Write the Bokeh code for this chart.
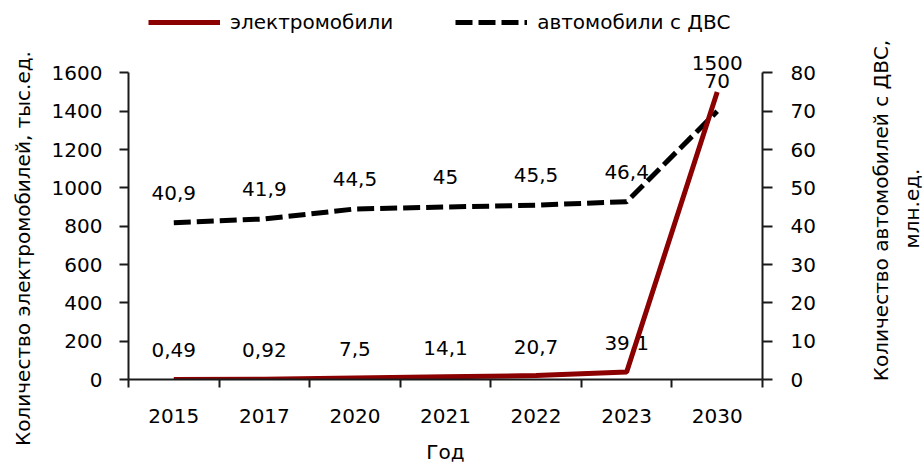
import math
from bokeh.plotting import figure
from bokeh.layouts import row
from bokeh.models import (Range1d, LinearAxis, FixedTicker, SingleIntervalTicker,
                          ColumnDataSource, Legend, LegendItem)
from bokeh.embed import file_html
from bokeh.resources import INLINE

# ---- data ----
years = ["2015", "2017", "2020", "2021", "2022", "2023", "2030"]
ev_values = [0.49, 0.92, 7.5, 14.1, 20.7, 39.1, 1500]
ice_values = [40.9, 41.9, 44.5, 45, 45.5, 46.4, 70]
ev_labels = ["0,49", "0,92", "7,5", "14,1", "20,7", "39,1", "1500"]
ice_labels = ["40,9", "41,9", "44,5", "45", "45,5", "46,4", "70"]
legend_ev = "электромобили"
legend_ice = "автомобили с ДВС"
left_title = ["Количество электромобилей, тыс.ед."]
right_title = ["Количество автомобилей с ДВС,", "млн.ед."]
x_title = "Год"
ev_axis_max = 1600
ice_axis_max = 80

FONT = "DejaVu Sans"
FS = "20px"
EV_COLOR = "#8B0000"
ICE_COLOR = "black"
ICE_DASH = "17 6"
AX_COLOR = "#1a1a1a"

# ---- layout (pixels) ----
H = 466
W_LEFT, W_MAIN, W_RIGHT = 44, 802, 78          # three side-by-side panels (924 total)
FRAME_TOP, AXIS_TOP, FRAME_BOTTOM = 0, 73, 382
FRAME_LEFT, FRAME_RIGHT = 84, 718              # inside the main panel
stretch = (FRAME_BOTTOM - FRAME_TOP) / (FRAME_BOTTOM - AXIS_TOP)


def text_panel(width, xs, ys, texts):
    """A bare panel holding rotated axis-title text (reads bottom to top)."""
    f = figure(width=width, height=H, output_backend="svg", toolbar_location=None,
               x_range=Range1d(0, width), y_range=Range1d(H, 0),
               x_axis_type=None, y_axis_type=None,
               min_border_left=0, min_border_right=0, min_border_top=0, min_border_bottom=0)
    f.outline_line_color = None
    f.xgrid.visible = False
    f.ygrid.visible = False
    if hasattr(f, "frame_align"):
        f.frame_align = False
    f.text(x=xs, y=ys, text=texts, angle=math.pi / 2,
           text_align="center", text_baseline="middle",
           text_font={"value": FONT}, text_font_size={"value": FS}, text_color="black")
    return f


left_panel = text_panel(W_LEFT, [22], [248], left_title)
right_panel = text_panel(W_RIGHT, [34, 65], [210, 208], right_title)

xpos = [i + 1 for i in range(len(years))]
src = ColumnDataSource(dict(x=xpos, ev=ev_values, ice=ice_values,
                            evl=ev_labels, icel=ice_labels))

p = figure(width=W_MAIN, height=H, output_backend="svg", toolbar_location=None,
           x_range=Range1d(0.5, len(years) + 0.5),
           y_range=Range1d(0, ev_axis_max * stretch),
           min_border_left=FRAME_LEFT, min_border_right=W_MAIN - FRAME_RIGHT,
           min_border_top=FRAME_TOP, min_border_bottom=H - FRAME_BOTTOM)
p.outline_line_color = None
p.xgrid.visible = False
p.ygrid.visible = False
p.background_fill_color = "white"
p.border_fill_color = "white"
if hasattr(p, "frame_align"):
    p.frame_align = False

p.extra_y_ranges = {"ice": Range1d(0, ice_axis_max * stretch)}

# x axis
xa = p.xaxis[0]
xa.ticker = FixedTicker(ticks=xpos, minor_ticks=[v - 0.5 for v in xpos] + [xpos[-1] + 0.5])
xa.major_label_overrides = {x: y for x, y in zip(xpos, years)}
xa.major_tick_out = 0
xa.major_tick_in = 0
xa.minor_tick_out = 8
xa.minor_tick_in = 0
xa.minor_tick_line_color = AX_COLOR
xa.minor_tick_line_width = 2
xa.axis_label = x_title

# left axis
ya = p.yaxis[0]
ya.ticker = SingleIntervalTicker(interval=200, num_minor_ticks=0)
ya.bounds = (0, ev_axis_max)

# right axis
ra = LinearAxis(y_range_name="ice", ticker=SingleIntervalTicker(interval=10, num_minor_ticks=0),
                bounds=(0, ice_axis_max))
p.add_layout(ra, "right")

for ax in [xa, ya, ra]:
    ax.axis_line_color = AX_COLOR
    ax.axis_line_width = 2
    ax.major_tick_line_color = AX_COLOR
    ax.major_tick_line_width = 2
    ax.major_label_text_font = FONT
    ax.major_label_text_font_size = FS
    ax.major_label_text_color = "black"
    ax.axis_label_text_font = FONT
    ax.axis_label_text_font_size = FS
    ax.axis_label_text_font_style = "normal"
    ax.axis_label_text_color = "black"

ya.major_tick_out = 9
ya.major_tick_in = 0
ra.major_tick_out = 10
ra.major_tick_in = 0
ya.major_label_standoff = 17
ra.major_label_standoff = 18
xa.major_label_standoff = 21
xa.axis_label_standoff = 14

# data labels (drawn beneath the lines)
p.text(x="x", y="ice", text="icel", source=src, y_range_name="ice",
       text_align="center", text_baseline="middle", y_offset=-30,
       text_font={"value": FONT}, text_font_size={"value": FS}, text_color="black")
p.text(x="x", y="ev", text="evl", source=src,
       text_align="center", text_baseline="middle", y_offset=-29,
       text_font={"value": FONT}, text_font_size={"value": FS}, text_color="black")

ice_line = p.line(x="x", y="ice", source=src, y_range_name="ice", line_color=ICE_COLOR,
                  line_width=5, line_dash=ICE_DASH)
ev_line = p.line(x="x", y="ev", source=src, line_color=EV_COLOR, line_width=5)

legend = Legend(items=[LegendItem(label=legend_ev, renderers=[ev_line]),
                       LegendItem(label=legend_ice, renderers=[ice_line])],
                orientation="horizontal", location=(20, FRAME_BOTTOM - FRAME_TOP - 37),
                glyph_width=72, glyph_height=20, label_standoff=10, spacing=62,
                padding=0, margin=0, border_line_alpha=0, background_fill_alpha=0,
                label_text_font=FONT, label_text_font_size=FS, label_text_color="black")
p.add_layout(legend, "center")

layout = row(left_panel, p, right_panel, spacing=0)
open("out.html", "w").write(file_html(layout, INLINE))
